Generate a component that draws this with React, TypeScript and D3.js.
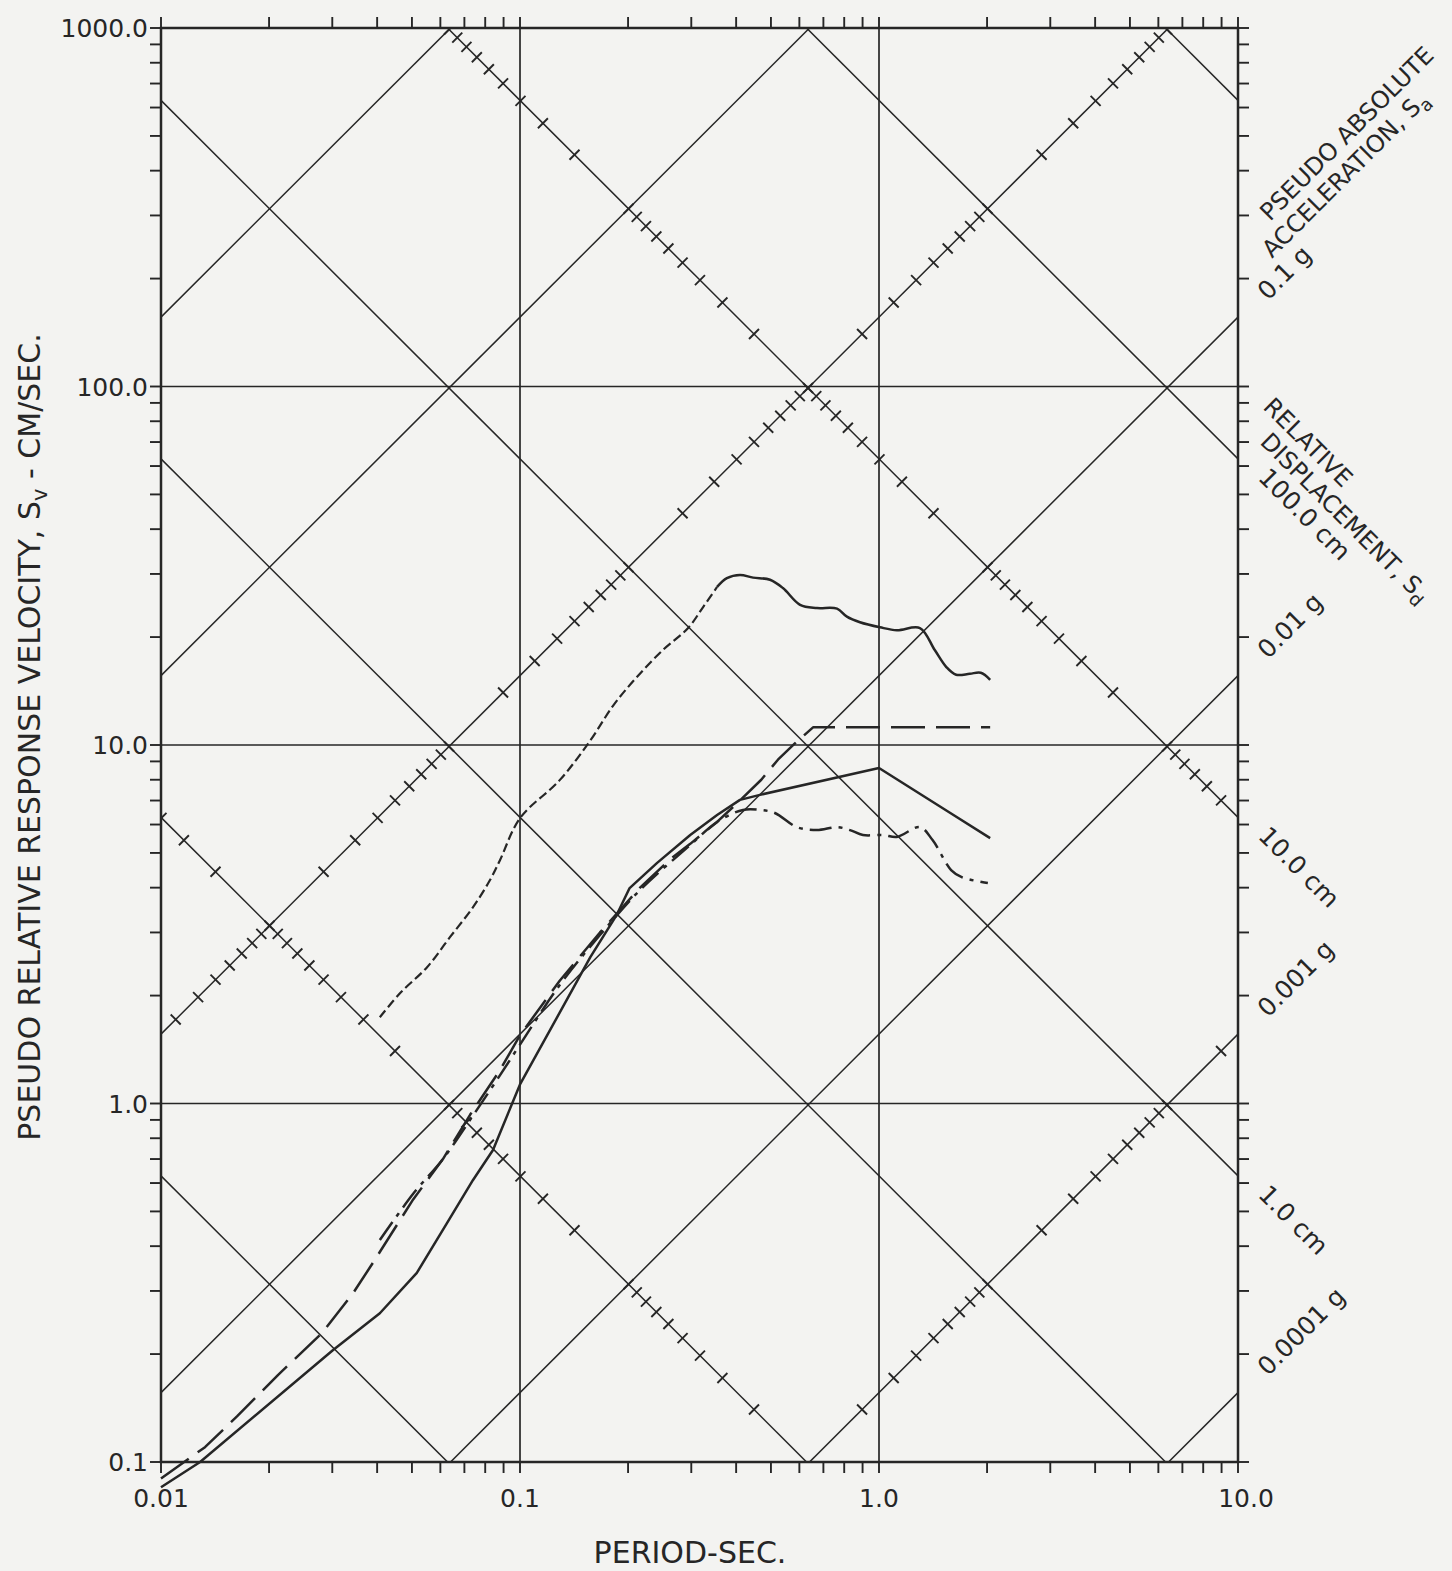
import * as d3 from 'd3';

const W = 1452;
const H = 1571;
const G = 981; // cm/s^2 per g
const TWO_PI = 2 * Math.PI;

// axis decades
const periodTicks = [0.01, 0.1, 1, 10];
const periodTickLabels = ['0.01', '0.1', '1.0', '10.0'];
const velocityTicks = [0.1, 1, 10, 100, 1000];
const velocityTickLabels = ['0.1', '1.0', '10.0', '100.0', '1000.0'];

// tripartite diagonals
const accelLinesG = [100, 10, 1, 0.1, 0.01, 0.001, 0.0001];
const dispLinesCm = [1000, 100, 10, 1, 0.1, 0.01, 0.001];
const tickedAccelG = [1, 0.001];
const tickedDispCm = [10, 0.01];
const minorSteps = [1, 2, 3, 4, 5, 6, 7, 8, 9];
const decadePowers = [-6, -5, -4, -3, -2, -1, 0, 1, 2, 3, 4, 5];

// right side labels
const accelLabelValues = [0.1, 0.01, 0.001, 0.0001];
const accelLabelTexts = ['0.1 g', '0.01 g', '0.001 g', '0.0001 g'];
const dispLabelValues = [100, 10, 1];
const dispLabelTexts = ['100.0 cm', '10.0 cm', '1.0 cm'];

// spectra [period sec, Sv cm/sec]
const upperDashed: [number, number][] = [
  [0.0407, 1.74], [0.0463, 2.03], [0.0551, 2.4], [0.0638, 2.91], [0.074, 3.53],
  [0.0825, 4.2], [0.088, 4.78], [0.1, 6.25], [0.129, 7.98], [0.157, 10.3],
  [0.182, 12.9], [0.212, 15.5], [0.25, 18.4], [0.294, 21.2], [0.324, 24.3], [0.354, 27.6],
];
const upperSolid: [number, number][] = [
  [0.354, 27.6], [0.377, 29.2], [0.41, 29.8], [0.446, 29.3], [0.497, 28.9], [0.54, 27.4],
  [0.603, 24.6], [0.672, 24.1], [0.764, 24.0], [0.814, 22.8], [0.885, 22.0], [1.006, 21.3],
  [1.122, 20.9], [1.3, 21.2], [1.43, 18.4], [1.54, 16.5], [1.64, 15.7], [1.79, 15.8],
  [1.92, 15.9], [2.04, 15.2],
];
const lowerSolid: [number, number][] = [
  [0.01, 0.085], [0.01285, 0.1], [0.0301, 0.205], [0.0407, 0.26], [0.0516, 0.337],
  [0.0626, 0.464], [0.074, 0.612], [0.0841, 0.742], [0.1, 1.13], [0.157, 2.56],
  [0.186, 3.36], [0.202, 3.99], [0.241, 4.69], [0.298, 5.61], [0.354, 6.38], [0.41, 7.03],
  [0.466, 7.26], [1.0, 8.63], [1.58, 6.46], [2.04, 5.5],
];
const longDashed: [number, number][] = [
  [0.01, 0.09], [0.01326, 0.11], [0.01628, 0.134], [0.0212, 0.175], [0.0281, 0.229],
  [0.0343, 0.296], [0.0389, 0.359], [0.0504, 0.54], [0.061, 0.7], [0.0726, 0.93],
  [0.088, 1.24], [0.1, 1.55], [0.129, 2.2], [0.167, 3.0], [0.216, 4.0], [0.262, 4.8],
  [0.298, 5.3], [0.354, 6.1], [0.41, 7.0], [0.47, 8.0], [0.523, 9.1], [0.583, 10.1],
  [0.655, 11.2], [2.04, 11.2],
];
const dashDot: [number, number][] = [
  [0.0407, 0.416], [0.0504, 0.56], [0.061, 0.7], [0.0726, 0.9], [0.088, 1.2], [0.1, 1.46],
  [0.129, 2.14], [0.167, 2.95], [0.216, 3.94], [0.298, 5.26], [0.354, 6.1], [0.418, 6.59],
  [0.466, 6.59], [0.513, 6.46], [0.591, 5.9], [0.672, 5.79], [0.764, 5.9], [0.83, 5.79],
  [0.902, 5.61], [1.026, 5.61], [1.122, 5.54], [1.3, 5.9], [1.41, 5.43], [1.588, 4.48],
  [1.7, 4.28], [2.01, 4.12],
];

const INK = '#262626';
const FONT = 'DejaVu Sans';

export default function App() {
  const x = d3.scaleLog().domain([0.01, 10]).range([161, 1238]);
  const y = d3.scaleLog().domain([0.1, 1000]).range([1462, 28]);
  const [x0, x1] = x.range();
  const [y1, y0] = y.range();

  const inPlot = (T: number, sv: number) => T > 0.01 && T < 10 && sv > 0.1 && sv < 1000;

  const line = d3
    .line<[number, number]>()
    .x((d) => x(d[0]))
    .y((d) => y(d[1]));
  const smooth = d3
    .line<[number, number]>()
    .x((d) => x(d[0]))
    .y((d) => y(d[1]))
    .curve(d3.curveCatmullRom.alpha(0.5));

  const accelSv = (ag: number, T: number) => (ag * G * T) / TWO_PI;
  const dispSv = (sd: number, T: number) => (TWO_PI * sd) / T;

  // tick marks on acceleration lines mark displacement values, and vice versa
  const marks: { px: number; py: number; up: boolean; key: string }[] = [];
  tickedAccelG.forEach((ag) => {
    decadePowers.forEach((p) => {
      minorSteps.forEach((n) => {
        const sd = n * Math.pow(10, p);
        const T = TWO_PI * Math.sqrt(sd / (ag * G));
        const sv = accelSv(ag, T);
        if (inPlot(T, sv)) marks.push({ px: x(T), py: y(sv), up: true, key: `a${ag}-${p}-${n}` });
      });
    });
  });
  tickedDispCm.forEach((sd) => {
    decadePowers.forEach((p) => {
      minorSteps.forEach((n) => {
        const ag = n * Math.pow(10, p);
        const T = TWO_PI * Math.sqrt(sd / (ag * G));
        const sv = dispSv(sd, T);
        if (inPlot(T, sv)) marks.push({ px: x(T), py: y(sv), up: false, key: `d${sd}-${p}-${n}` });
      });
    });
  });

  const m = 5;

  return (
    <svg
      width={W}
      height={H}
      style={{ position: 'absolute', left: 0, top: 0, display: 'block' }}
      fontFamily={FONT}
    >
      <defs>
        <clipPath id="plotArea">
          <rect x={x0} y={y0} width={x1 - x0} height={y1 - y0} />
        </clipPath>
      </defs>
      <rect x={0} y={0} width={W} height={H} fill="#f3f3f1" />

      {/* grid */}
      {periodTicks.slice(1, -1).map((t) => (
        <line key={`vx${t}`} x1={x(t)} x2={x(t)} y1={y0} y2={y1} stroke={INK} strokeWidth={1.7} />
      ))}
      {velocityTicks.slice(1, -1).map((v) => (
        <line key={`hy${v}`} x1={x0} x2={x1} y1={y(v)} y2={y(v)} stroke={INK} strokeWidth={1.7} />
      ))}

      {/* diagonals */}
      <g clipPath="url(#plotArea)" stroke={INK} strokeWidth={1.5} fill="none">
        {accelLinesG.map((ag) => (
          <path
            key={`acc${ag}`}
            d={line([
              [0.001, accelSv(ag, 0.001)],
              [100, accelSv(ag, 100)],
            ]) as string}
          />
        ))}
        {dispLinesCm.map((sd) => (
          <path
            key={`dis${sd}`}
            d={line([
              [0.001, dispSv(sd, 0.001)],
              [100, dispSv(sd, 100)],
            ]) as string}
          />
        ))}
        {marks.map((mk) =>
          mk.up ? (
            <line key={mk.key} x1={mk.px - m} y1={mk.py - m} x2={mk.px + m} y2={mk.py + m} strokeWidth={1.9} />
          ) : (
            <line key={mk.key} x1={mk.px - m} y1={mk.py + m} x2={mk.px + m} y2={mk.py - m} strokeWidth={1.9} />
          )
        )}
      </g>

      {/* spectra */}
      <g fill="none" stroke={INK} strokeWidth={2.5} strokeLinejoin="round">
        <path d={smooth(upperDashed) as string} strokeDasharray="9 4" strokeWidth={2.2} />
        <path d={smooth(upperSolid) as string} />
        <path d={line(lowerSolid) as string} />
        <path d={line(longDashed) as string} strokeDasharray="34 11" />
        <path d={smooth(dashDot) as string} strokeDasharray="22 7 4 7" />
      </g>

      {/* frame */}
      <rect x={x0} y={y0} width={x1 - x0} height={y1 - y0} fill="none" stroke={INK} strokeWidth={2.5} />

      {/* axis ticks */}
      <g stroke={INK} strokeWidth={1.9}>
        {x.ticks().map((t, i) => (
          <g key={`xt${i}`}>
            <line x1={x(t)} x2={x(t)} y1={y1} y2={y1 + 11} />
            <line x1={x(t)} x2={x(t)} y1={y0} y2={y0 - 11} />
          </g>
        ))}
        {y.ticks().map((v, i) => (
          <g key={`yt${i}`}>
            <line x1={x0} x2={x0 - 11} y1={y(v)} y2={y(v)} />
            <line x1={x1} x2={x1 + 11} y1={y(v)} y2={y(v)} />
          </g>
        ))}
      </g>

      {/* tick labels */}
      <g fill={INK} fontSize={25}>
        {periodTicks.map((t, i) => (
          <text key={`xl${t}`} x={x(t) + (i === periodTicks.length - 1 ? 8 : 0)} y={1507} textAnchor="middle">
            {periodTickLabels[i]}
          </text>
        ))}
        {velocityTicks.map((v, i) => (
          <text key={`yl${v}`} x={148} y={y(v) + 9} textAnchor="end">
            {velocityTickLabels[i]}
          </text>
        ))}
      </g>

      {/* axis titles */}
      <text x={690} y={1563} textAnchor="middle" fontSize={30} fill={INK}>
        PERIOD-SEC.
      </text>
      <text transform="translate(40,737) rotate(-90)" textAnchor="middle" fontSize={30} fill={INK}>
        PSEUDO RELATIVE RESPONSE VELOCITY, S
        <tspan fontSize={21} dy={7}>v</tspan>
        <tspan dy={-7}> - CM/SEC.</tspan>
      </text>

      {/* right side labels */}
      <g fill={INK} fontSize={24}>
        <text transform="translate(1270,222) rotate(-45)">PSEUDO ABSOLUTE</text>
        <text transform="translate(1272,259) rotate(-45)">
          ACCELERATION, S<tspan fontSize={18} dy={6}>a</tspan>
        </text>
        <text transform="translate(1262,408) rotate(45)">RELATIVE</text>
        <text transform="translate(1259,443) rotate(45)">
          DISPLACEMENT, S<tspan fontSize={18} dy={6}>d</tspan>
        </text>
        {accelLabelValues.map((ag, i) => (
          <text
            key={`al${ag}`}
            fontSize={25}
            transform={`translate(1268,${y(accelSv(ag, 10)) - 16}) rotate(-45)`}
          >
            {accelLabelTexts[i]}
          </text>
        ))}
        {dispLabelValues.map((sd, i) => (
          <text
            key={`dl${sd}`}
            fontSize={25}
            transform={`translate(1257,${y(dispSv(sd, 10)) + 20}) rotate(45)`}
          >
            {dispLabelTexts[i]}
          </text>
        ))}
      </g>
    </svg>
  );
}
